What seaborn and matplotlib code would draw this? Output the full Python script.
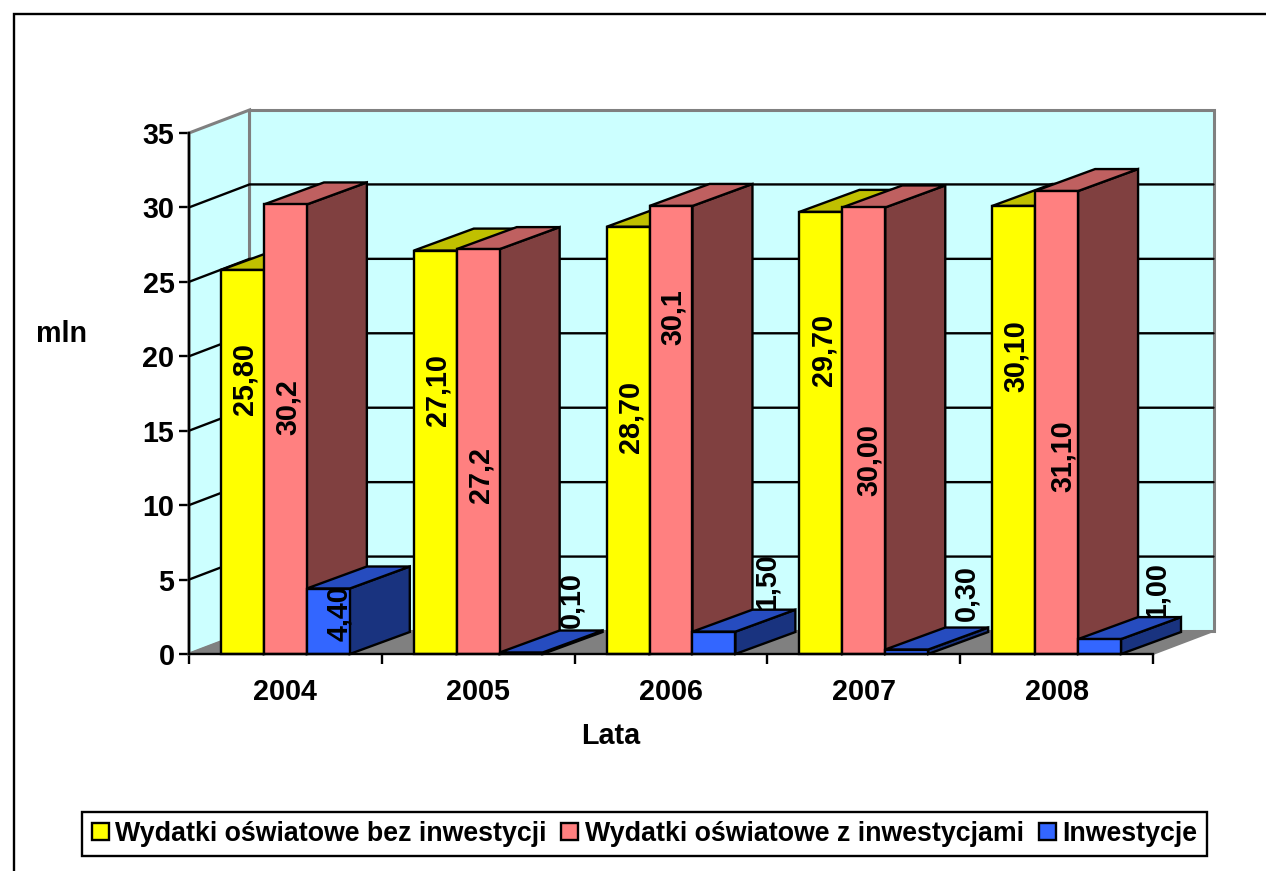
import matplotlib
matplotlib.use("Agg")
import matplotlib.pyplot as plt
from matplotlib.lines import Line2D
from matplotlib.patches import Polygon
import pandas as pd
import seaborn as sns

# data
years = ["2004", "2005", "2006", "2007", "2008"]
series_names = ["Wydatki oświatowe bez inwestycji", "Wydatki oświatowe z inwestycjami", "Inwestycje"]
bez_inwestycji = [25.80, 27.10, 28.70, 29.70, 30.10]
z_inwestycjami = [30.2, 27.2, 30.1, 30.00, 31.10]
inwestycje = [4.40, 0.10, 1.50, 0.30, 1.00]
bez_labels = ["25,80", "27,10", "28,70", "29,70", "30,10"]
z_labels = ["30,2", "27,2", "30,1", "30,00", "31,10"]
inw_labels = ["4,40", "0,10", "1,50", "0,30", "1,00"]

# label placement (moved by hand in the original chart)
bez_label_y = [18.5, 17.7, 15.9, 20.4, 20.0]
z_label_y = [16.6, 12.0, 22.6, 13.0, 13.3]
inw_label_y = [2.75, 3.6, 4.9, 4.1, 4.3]
bez_label_dx = [2.5, 2.5, 2.5, 2.5, 2.5]
z_label_dx = [2.5, 2.5, 1.5, 5.5, 6.5]
inw_label_dx = [10.5, 50.5, 52.5, 59.5, 57]

W, H = 1266, 871
LEFT, RIGHT, Y0, Y35 = 189, 1153, 654, 133
PX_X = (RIGHT - LEFT) / 5
PX_Y = (Y0 - Y35) / 35
WALL_DX, WALL_DY = 60.5 / PX_X, 23 / PX_Y
BAR_DX, BAR_DY = 60 / PX_X, 22 / PX_Y
LW = 1.7
FS = 20.7
LEG_FS = 19.3

sns.set_theme(style="white", rc={"axes.linewidth": LW, "text.color": "black"})
plt.rcParams["font.family"] = ["Liberation Sans", "DejaVu Sans"]
plt.rcParams["font.weight"] = "bold"

faces = {"#FFFF00": ("#C0C000", "#808000"),
         "#FF8080": ("#BF6060", "#804040"),
         "#3366FF": ("#264CBF", "#19337F")}
palette = list(faces)

df = pd.DataFrame({
    "rok": years * 3,
    "seria": [s for s in series_names for _ in years],
    "mln": bez_inwestycji + z_inwestycjami + inwestycje,
})

fig = plt.figure(figsize=(W / 100, H / 100), dpi=100, facecolor="white")
ax = fig.add_axes([LEFT / W, 1 - Y0 / H, (RIGHT - LEFT) / W, (Y0 - Y35) / H])
ax.patch.set_alpha(0)
sns.barplot(data=df, x="rok", y="mln", hue="seria", hue_order=series_names, palette=palette,
            width=0.668, gap=0, saturation=1, edgecolor="black", linewidth=LW, legend=False, ax=ax)
ax.set_xlim(-0.5, 4.5)
ax.set_ylim(0, 35)

# walls and floor
x0, x1 = -0.5, 4.5
poly = dict(clip_on=False, joinstyle="miter")
ax.add_patch(Polygon([(x0 + WALL_DX, WALL_DY), (x1 + WALL_DX, WALL_DY), (x1 + WALL_DX, 35 + WALL_DY), (x0 + WALL_DX, 35 + WALL_DY)],
                     fc="#CCFFFF", ec="#808080", lw=2.2, zorder=1, **poly))
ax.add_patch(Polygon([(x0, 0), (x0 + WALL_DX, WALL_DY), (x0 + WALL_DX, 35 + WALL_DY), (x0, 35)],
                     fc="#CCFFFF", ec="#808080", lw=2.2, zorder=1.1, **poly))
ax.add_patch(Polygon([(x0, 0), (x1, 0), (x1 + WALL_DX, WALL_DY), (x0 + WALL_DX, WALL_DY)],
                     fc="#808080", ec="#808080", lw=1.44, zorder=1.2, **poly))
for tick in range(5, 35, 5):
    ax.add_line(Line2D([x0, x0 + WALL_DX, x1 + WALL_DX], [tick, tick + WALL_DY, tick + WALL_DY],
                       color="black", lw=LW, zorder=1.3, clip_on=False, solid_joinstyle="miter"))

# depth faces of each bar, painted from left to right
for s, (container, base) in enumerate(zip(ax.containers, palette)):
    top_c, side_c = faces[base]
    for g, bar in enumerate(container):
        z = 10 + 10 * g + 2 * s
        l, w, h = bar.get_x(), bar.get_width(), bar.get_height()
        r = l + w
        ax.add_patch(Polygon([(r, 0), (r + BAR_DX, BAR_DY), (r + BAR_DX, h + BAR_DY), (r, h)],
                             fc=side_c, ec="black", lw=LW, zorder=z, **poly))
        ax.add_patch(Polygon([(l, h), (l + BAR_DX, h + BAR_DY), (r + BAR_DX, h + BAR_DY), (r, h)],
                             fc=top_c, ec="black", lw=LW, zorder=z, **poly))
        bar.set_zorder(z + 1)
        bar.set_joinstyle("miter")
        bar.set_clip_on(False)

# value labels
groups = [(bez_labels, bez_label_y, bez_label_dx), (z_labels, z_label_y, z_label_dx), (inw_labels, inw_label_y, inw_label_dx)]
for s, (texts, ys, dxs) in enumerate(groups):
    for g, bar in enumerate(ax.containers[s]):
        behind_own_bar = s == 2 and g > 0
        ax.text(bar.get_x() + bar.get_width() / 2 + dxs[g] / PX_X, ys[g], texts[g], rotation=90,
                ha="center", va="center", fontsize=FS, color="black", clip_on=False,
                zorder=bar.get_zorder() - 1.5 if behind_own_bar else 100)

# axes
for side in ("top", "right"):
    ax.spines[side].set_visible(False)
for side in ("left", "bottom"):
    ax.spines[side].set_zorder(200)
    ax.spines[side].set_color("black")
    ax.spines[side].set_linewidth(LW)
ax.set_yticks(range(0, 40, 5))
ax.set_xticks([i - 0.5 for i in range(6)])
ax.set_xticklabels([])
ax.set_xticks(range(5), years, minor=True)
ax.tick_params(axis="x", which="major", bottom=True, length=7.5, width=LW, color="black")
ax.tick_params(axis="x", which="minor", bottom=False, length=0, pad=17, labelsize=FS, labelcolor="black")
ax.tick_params(axis="y", left=True, length=7.5, width=LW, color="black", pad=3, labelsize=FS, labelcolor="black")
ax.set_xlabel("Lata", fontsize=FS, fontweight="bold", color="black", va="center")
ax.xaxis.set_label_coords((611 - LEFT) / (RIGHT - LEFT), -(736 - Y0) / (Y0 - Y35))
ax.set_ylabel("mln", fontsize=FS, fontweight="bold", color="black", rotation=0, ha="center", va="center")
ax.yaxis.set_label_coords((62 - LEFT) / (RIGHT - LEFT), (Y0 - 334) / (Y0 - Y35))

# legend
handles = [c[0] for c in ax.containers]
leg = ax.legend(handles, series_names, loc="center", bbox_to_anchor=((80 + 1209) / 2 / W, 1 - 834 / H),
                bbox_transform=fig.transFigure, ncol=3, frameon=True, fancybox=False, framealpha=1,
                edgecolor="black", fontsize=LEG_FS, handlelength=0.63, handleheight=0.63, handletextpad=0.25,
                columnspacing=0.55, borderpad=0.35, borderaxespad=0, labelcolor="black")
leg.get_frame().set_linewidth(LW)
leg.set_zorder(300)

# chart border
fig.add_artist(Line2D([14 / W, 14 / W, 1], [0, 1 - 14 / H, 1 - 14 / H], color="black", lw=LW,
                      solid_joinstyle="miter"))

fig.savefig("out.png", dpi=100)
